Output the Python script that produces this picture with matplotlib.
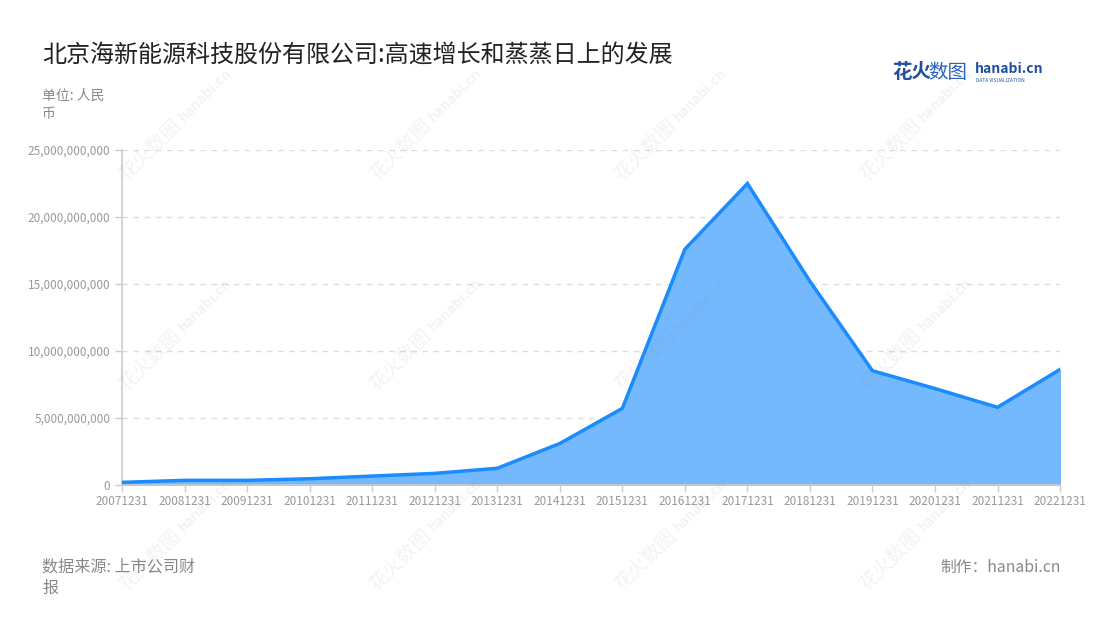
import numpy as np
import matplotlib
matplotlib.use('Agg')
import matplotlib.pyplot as plt
from matplotlib.ticker import FuncFormatter

plt.rcParams['font.family'] = ['Noto Sans CJK SC', 'DejaVu Sans']

# Data (yuan)
dates = ['20071231', '20081231', '20091231', '20101231', '20111231', '20121231',
         '20131231', '20141231', '20151231', '20161231', '20171231', '20181231',
         '20191231', '20201231', '20211231', '20221231']
values = [0.20e9, 0.35e9, 0.35e9, 0.47e9, 0.67e9, 0.87e9,
          1.25e9, 3.10e9, 5.72e9, 17.6e9, 22.5e9, 15.2e9,
          8.53e9, 7.20e9, 5.80e9, 8.63e9]
yticks = [0, 5e9, 10e9, 15e9, 20e9, 25e9]

title = '北京海新能源科技股份有限公司:高速增长和蒸蒸日上的发展'

fig = plt.figure(figsize=(11, 6.2), dpi=100)
ax = fig.add_axes([0.111, 0.2177, 0.8527, 0.5403])

x = np.arange(len(dates))
ax.fill_between(x, values, 0, color='#74b9fd', zorder=2)
ax.plot(x, values, color='#1a8cff', lw=2.5, zorder=3, solid_joinstyle='miter')

ax.set_xlim(0, len(dates) - 1)
ax.set_ylim(0, 25e9)
ax.set_xticks(x)
ax.set_xticklabels(dates)
ax.set_yticks(yticks)
ax.yaxis.set_major_formatter(FuncFormatter(lambda v, p: f'{int(v):,}'))
ax.tick_params(axis='both', colors='#cccccc', labelcolor='#999999', labelsize=8.5, length=5, width=1)
ax.tick_params(axis='x', pad=2)
ax.yaxis.grid(True, linestyle=(0, (4, 4)), color='#dddddd', lw=1)
ax.set_axisbelow(True)
for s in ['top', 'right']:
    ax.spines[s].set_visible(False)
for s in ['left', 'bottom']:
    ax.spines[s].set_color('#cccccc')
    ax.spines[s].set_linewidth(1.2)

# Texts
fig.text(42 / 1100, 1 - 55 / 620, title, fontsize=17.3, color='#222222', va='center', ha='left')
fig.text(42 / 1100, 1 - 96 / 620, '单位: 人民', fontsize=10, color='#888888', va='center')
fig.text(42 / 1100, 1 - 114 / 620, '币', fontsize=10, color='#888888', va='center')
fig.text(42 / 1100, 1 - 567 / 620, '数据来源: 上市公司财', fontsize=11.6, color='#888888', va='center')
fig.text(42 / 1100, 1 - 588 / 620, '报', fontsize=11.6, color='#888888', va='center')
fig.text(1061 / 1100, 1 - 567 / 620, '制作：hanabi.cn', fontsize=11.3, color='#888888', va='center', ha='right')

# Logo
fig.text(892 / 1100, 1 - 72 / 620, '花火', fontsize=14, color='#1f4e9c', fontweight='bold', va='center')
fig.text(928 / 1100, 1 - 72 / 620, '数图', fontsize=14, color='#2a62c0', va='center')
fig.text(975 / 1100, 1 - 69 / 620, 'hanabi.cn', fontsize=10, color='#1f4e9c', fontweight='bold', va='center')
fig.text(976 / 1100, 1 - 80 / 620, 'DATA VISUALIZATION', fontsize=3.5, color='#1f4e9c', va='center')

# Watermarks
for wx in [150, 400, 645, 890]:
    for wy in [150, 360, 560]:
        fig.text(wx / 1100, 1 - wy / 620, '花火数图', fontsize=14, color='#888888', alpha=0.1,
                 rotation=45, ha='center', va='center')
        fig.text((wx + 55) / 1100, 1 - (wy - 55) / 620, 'hanabi.cn', fontsize=10, color='#888888',
                 alpha=0.1, rotation=45, ha='center', va='center', fontweight='bold')

plt.savefig('out.png', dpi=100)
